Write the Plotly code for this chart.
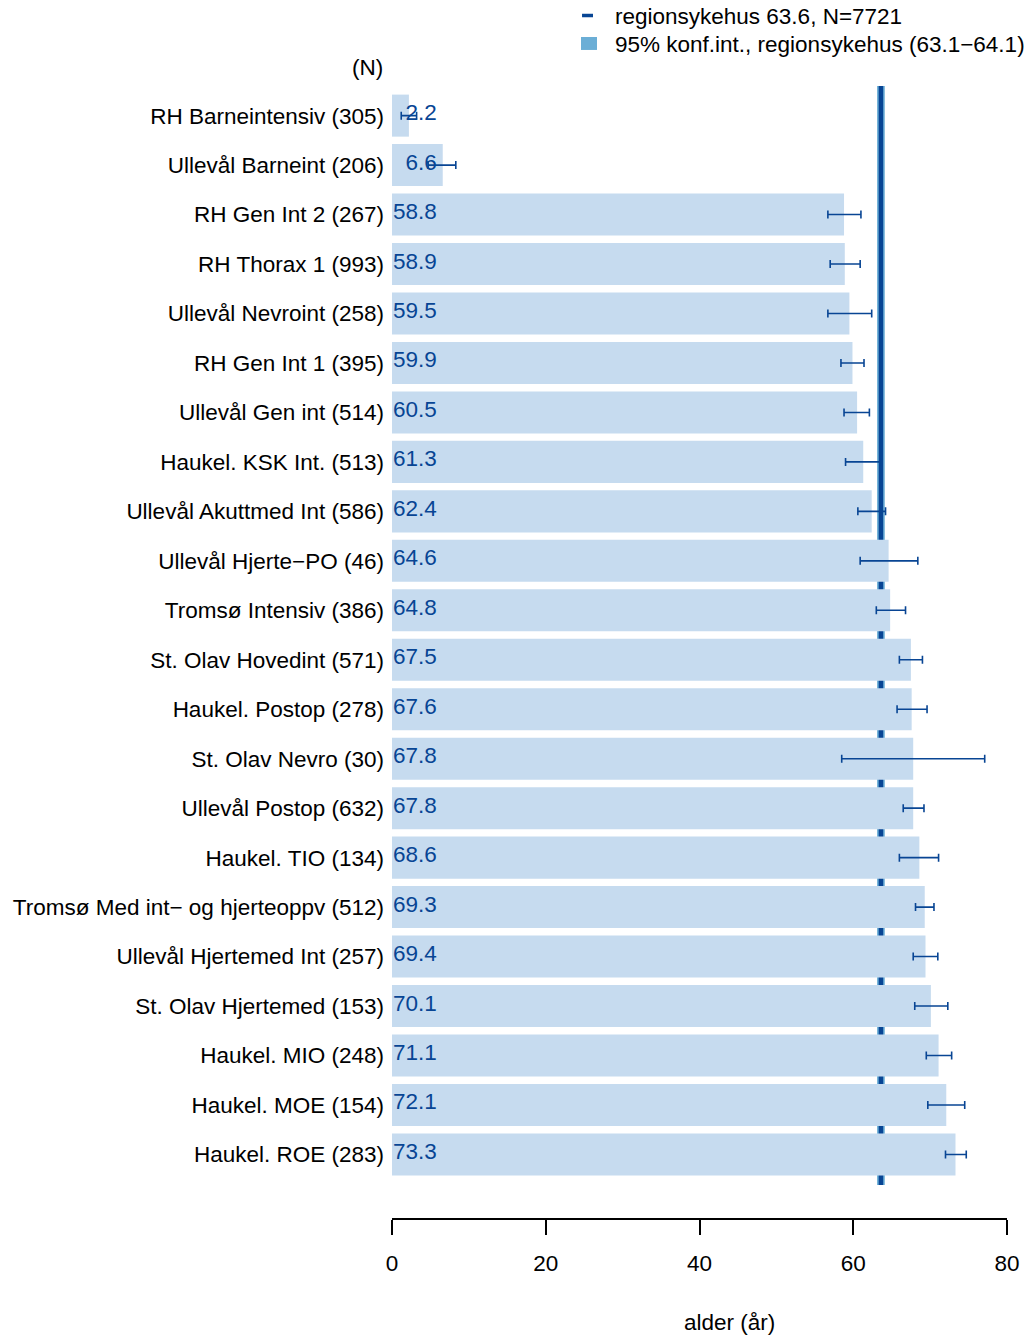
import plotly.graph_objects as go

# ---- data ----
units = ["RH Barneintensiv", "Ullevål Barneint", "RH Gen Int 2", "RH Thorax 1",
         "Ullevål Nevroint", "RH Gen Int 1", "Ullevål Gen int", "Haukel. KSK Int.",
         "Ullevål Akuttmed Int", "Ullevål Hjerte\u2212PO", "Tromsø Intensiv",
         "St. Olav Hovedint", "Haukel. Postop", "St. Olav Nevro", "Ullevål Postop",
         "Haukel. TIO", "Tromsø Med int\u2212 og hjerteoppv", "Ullevål Hjertemed Int",
         "St. Olav Hjertemed", "Haukel. MIO", "Haukel. MOE", "Haukel. ROE"]
n_obs = [305, 206, 267, 993, 258, 395, 514, 513, 586, 46, 386, 571, 278, 30, 632,
         134, 512, 257, 153, 248, 154, 283]
mean_age = [2.2, 6.6, 58.8, 58.9, 59.5, 59.9, 60.5, 61.3, 62.4, 64.6, 64.8, 67.5,
            67.6, 67.8, 67.8, 68.6, 69.3, 69.4, 70.1, 71.1, 72.1, 73.3]
ci_low = [1.2, 4.7, 56.7, 57.0, 56.7, 58.4, 58.8, 59.0, 60.6, 60.9, 63.0, 66.0,
          65.7, 58.5, 66.5, 66.0, 68.1, 67.8, 68.0, 69.5, 69.7, 72.0]
ci_high = [3.2, 8.3, 61.0, 60.9, 62.4, 61.4, 62.1, 63.5, 64.2, 68.4, 66.8, 69.0,
           69.6, 77.1, 69.2, 71.1, 70.5, 71.0, 72.3, 72.8, 74.5, 74.7]
region_mean = 63.6
region_n = 7721
region_ci = (63.1, 64.1)
x_ticks = [0, 20, 40, 60, 80]
x_title = "alder (år)"

# ---- styles ----
FONT = "Liberation Sans, Arial, Helvetica, sans-serif"
FS = 22.5
BAR_COL = "#C6DBEF"
DARK = "#084594"
CI_COL = "#6BAED6"

rows = list(range(len(units)))
labels = [f"{u} ({n})" for u, n in zip(units, n_obs)]

fig = go.Figure()

fig.add_trace(go.Bar(
    x=mean_age, y=rows, orientation="h", width=0.85,
    marker=dict(color=BAR_COL, line=dict(width=0)),
    error_x=dict(type="data", symmetric=False,
                 array=[h - m for h, m in zip(ci_high, mean_age)],
                 arrayminus=[m - l for m, l in zip(mean_age, ci_low)],
                 color=DARK, thickness=1.6, width=4),
    showlegend=False, hoverinfo="skip",
))

# region mean line and CI band (below bars)
y_top, y_bot = -0.6, len(units) - 1 + 0.62
fig.add_shape(type="rect", xref="x", yref="y", x0=region_ci[0], x1=region_ci[1],
              y0=y_top, y1=y_bot, fillcolor=CI_COL, line=dict(width=0), layer="below")
fig.add_shape(type="line", xref="x", yref="y", x0=region_mean, x1=region_mean,
              y0=y_top, y1=y_bot, line=dict(color=DARK, width=4.5), layer="below")

# value labels
for r, m in zip(rows, mean_age):
    txt = f"{m:.1f}"
    if m < 10:
        txt = "\u00a0\u00a0" + txt
    fig.add_annotation(x=0, y=r, xref="x", yref="y", text=txt, showarrow=False,
                       xanchor="left", yanchor="middle", yshift=3, borderpad=0,
                       font=dict(family=FONT, size=FS, color=DARK))

# (N) header
fig.add_annotation(x=-0.011, y=1.0123, xref="paper", yref="paper", text="(N)",
                   showarrow=False, xanchor="right", yanchor="middle",
                   font=dict(family=FONT, size=FS, color="black"))

# x title
fig.add_annotation(x=0.548, y=-0.0923, xref="paper", yref="paper", text=x_title,
                   showarrow=False, xanchor="center", yanchor="middle",
                   font=dict(family=FONT, size=FS, color="black"))

# legend
fig.add_shape(type="line", xref="paper", yref="paper", x0=0.309, x1=0.3268,
              y0=1.0576, y1=1.0576, line=dict(color=DARK, width=3.5))
fig.add_shape(type="rect", xref="paper", yref="paper", x0=0.3073, x1=0.3333,
              y0=1.0273, y1=1.0387, fillcolor=CI_COL, line=dict(width=0))
fig.add_annotation(x=0.3595, y=1.0563, xref="paper", yref="paper",
                   text=f"regionsykehus {region_mean}, N={region_n}",
                   showarrow=False, xanchor="left", yanchor="middle",
                   font=dict(family=FONT, size=FS, color="black"))
fig.add_annotation(x=0.3595, y=1.0325, xref="paper", yref="paper",
                   text=f"95% konf.int., regionsykehus ({region_ci[0]}\u2212{region_ci[1]})",
                   showarrow=False, xanchor="left", yanchor="middle",
                   font=dict(family=FONT, size=FS, color="black"))

fig.update_layout(
    width=1027, height=1337,
    margin=dict(l=392, r=20, t=81, b=119, autoexpand=False),
    paper_bgcolor="white", plot_bgcolor="white",
    font=dict(family=FONT, size=FS, color="black"),
    bargap=0.15,
    xaxis=dict(range=[0, 80], tickvals=x_ticks, showgrid=False, zeroline=False,
               automargin=False,
               showline=True, linecolor="black", linewidth=1.5,
               ticks="outside", ticklen=15, tickwidth=1.5, tickcolor="black",
               ticklabelstandoff=9, tickfont=dict(family=FONT, size=FS, color="black")),
    yaxis=dict(range=[len(units) - 1 + 1.285, -0.7], tickvals=rows, ticktext=labels,
               automargin=False,
               showgrid=False, zeroline=False, showline=False, ticks="",
               ticklabelstandoff=7, tickfont=dict(family=FONT, size=FS, color="black")),
)

fig.write_html("out.html", config={"displayModeBar": False},
               post_script="document.body.style.margin='0';document.body.style.overflow='hidden';")
